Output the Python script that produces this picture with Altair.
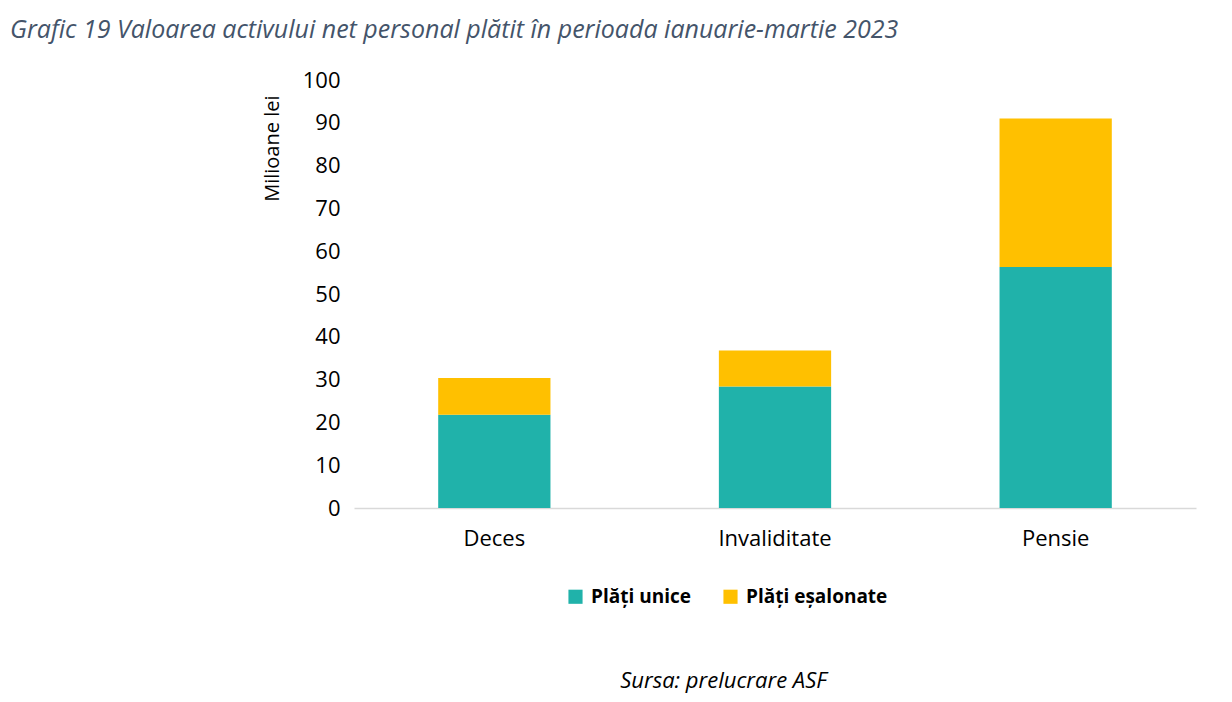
import altair as alt
import pandas as pd

categories = ["Deces", "Invaliditate", "Pensie"]
series_names = ["Plăți unice", "Plăți eșalonate"]
plati_unice = [21.8, 28.4, 56.3]
plati_esalonate = [8.6, 8.4, 34.7]
colors = ["#20B2AA", "#FFC000"]

rows = []
for i, c in enumerate(categories):
    rows.append({"cat": c, "serie": series_names[0], "val": plati_unice[i], "ord": 0})
    rows.append({"cat": c, "serie": series_names[1], "val": plati_esalonate[i], "ord": 1})
df = pd.DataFrame(rows)

FONT = "Open Sans"
W, H = 842, 428
PL, PT = 346, 72

chart = alt.Chart(df).mark_bar().encode(
    x=alt.X("cat:N", sort=categories,
            scale=alt.Scale(paddingInner=0.6, paddingOuter=0.3),
            axis=alt.Axis(title="Sursa: prelucrare ASF", labelAngle=0, ticks=False,
                          domainColor="#D9D9D9", domainWidth=1.5,
                          labelFont=FONT, labelFontSize=22, labelColor="#000000",
                          labelPadding=20,
                          titleFont=FONT, titleFontSize=22, titleFontStyle="italic",
                          titleFontWeight="normal", titleColor="#000000",
                          titleX=369, titleY=172, titleAnchor="middle", titleAlign="center",
                          titleBaseline="middle")),
    y=alt.Y("val:Q", stack="zero",
            scale=alt.Scale(domain=[0, 100]),
            axis=alt.Axis(title="Milioane lei", values=list(range(0, 101, 10)),
                          grid=False, domain=False, ticks=False,
                          labelFont=FONT, labelFontSize=22, labelColor="#000000",
                          labelPadding=14,
                          titleFont=FONT, titleFontSize=20, titleFontWeight="normal",
                          titleColor="#000000", titleX=-82, titleY=15,
                          titleAlign="right", titleBaseline="middle", titleAngle=-90)),
    color=alt.Color("serie:N", sort=series_names,
                    scale=alt.Scale(domain=series_names, range=colors),
                    legend=alt.Legend(title=None, orient="none", legendX=212, legendY=507,
                                      direction="horizontal", symbolType="square",
                                      symbolSize=200, symbolStrokeWidth=0,
                                      labelFont=FONT, labelFontSize=19, labelFontWeight="bold",
                                      labelColor="#000000", columnPadding=30, labelOffset=6)),
    order=alt.Order("ord:Q", sort="ascending"),
).properties(
    width=W, height=H,
    padding={"left": PL, "top": PT, "right": 1216 - PL - W, "bottom": 686 - PT - H},
    autosize=alt.AutoSizeParams(type="none"),
    title=alt.TitleParams("Grafic 19 Valoarea activului net personal plătit în perioada ianuarie-martie 2023",
                          anchor="start", frame="group", dx=-344, offset=26, font=FONT, fontSize=25,
                          fontStyle="italic", fontWeight="normal", color="#44546A"),
).configure_view(stroke=None)

chart.save("out.html", embed_options={"renderer": "svg", "actions": False})
